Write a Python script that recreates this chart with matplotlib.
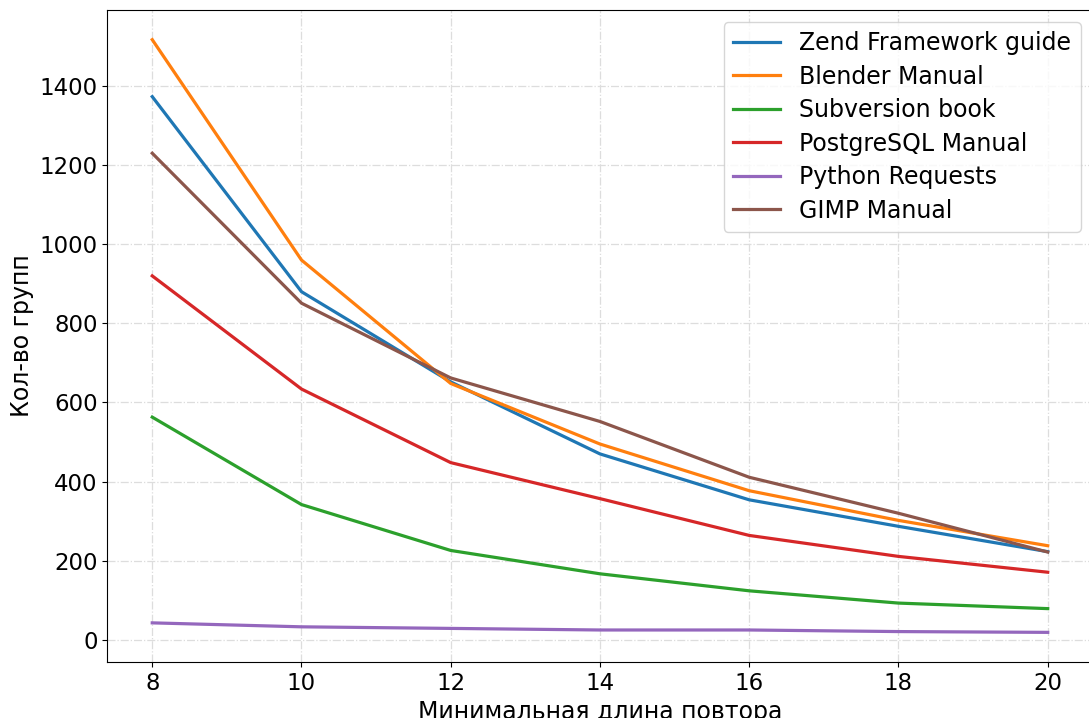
import matplotlib
matplotlib.use("Agg")
import matplotlib.pyplot as plt

x = [8, 10, 12, 14, 16, 18, 20]
zend = [1373, 880, 652, 470, 354, 287, 223]
blender = [1517, 960, 648, 495, 377, 302, 238]
subversion = [563, 342, 226, 167, 124, 93, 79]
postgres = [920, 634, 448, 357, 264, 211, 171]
python_req = [43, 33, 29, 25, 25, 21, 19]
gimp = [1230, 851, 662, 552, 411, 320, 222]

series = [
    ("Zend Framework guide", zend),
    ("Blender Manual", blender),
    ("Subversion book", subversion),
    ("PostgreSQL Manual", postgres),
    ("Python Requests", python_req),
    ("GIMP Manual", gimp),
]

fig = plt.figure(figsize=(10.89, 7.18), dpi=100)
ax = fig.add_axes([0.0987, 0.078, 0.9045, 0.908])
for name, vals in series:
    ax.plot(x, vals, linewidth=2.3, label=name)

ax.grid(True, linestyle="-.", color="#dddddd", linewidth=0.9)
ax.set_xlabel("Минимальная длина повтора", fontsize=17)
ax.set_ylabel("Кол-во групп", fontsize=17)
ax.tick_params(labelsize=16.5)
ax.legend(fontsize=17, loc="upper right", labelspacing=0.4, handlelength=2.0)
fig.savefig("out.png", dpi=100)
